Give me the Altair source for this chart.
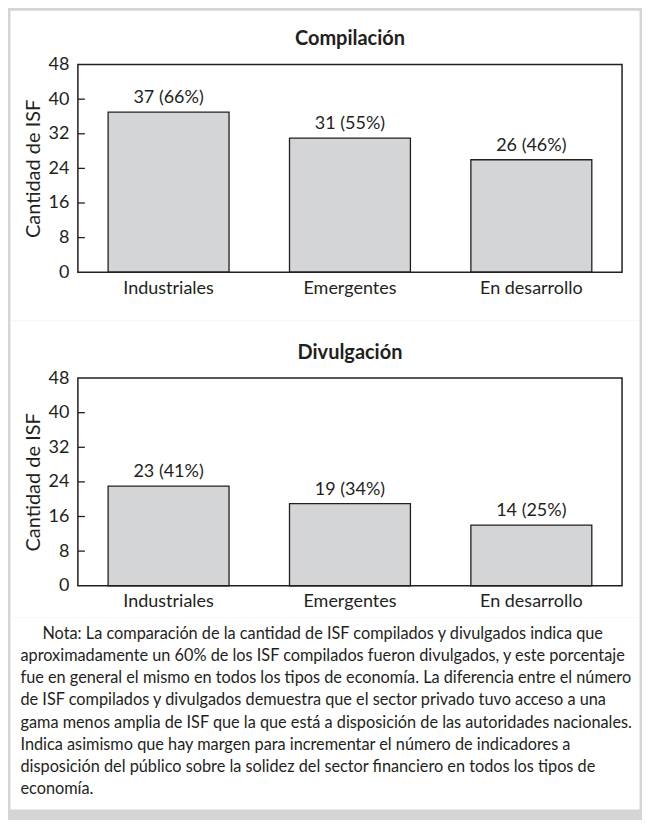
import altair as alt
import pandas as pd

# ---------------- data ----------------
categories = ["Industriales", "Emergentes", "En desarrollo"]
compilados = [37, 31, 26]
compilados_pct = [66, 55, 46]
divulgados = [23, 19, 14]
divulgados_pct = [41, 34, 25]
y_ticks = [0, 8, 16, 24, 32, 40, 48]
inner_ticks = [8, 16, 24, 32, 40]
panel_titles = ["Compilación", "Divulgación"]
y_title = "Cantidad de ISF"
note_lines = [
    "Nota: La comparación de la cantidad de ISF compilados y divulgados indica que",
    "aproximadamente un 60% de los ISF compilados fueron divulgados, y este porcentaje",
    "fue en general el mismo en todos los tipos de economía. La diferencia entre el número",
    "de ISF compilados y divulgados demuestra que el sector privado tuvo acceso a una",
    "gama menos amplia de ISF que la que está a disposición de las autoridades nacionales.",
    "Indica asimismo que hay margen para incrementar el número de indicadores a",
    "disposición del público sobre la solidez del sector financiero en todos los tipos de",
    "economía.",
]

# ---------------- style ----------------
FONT = "Lato"
INK = "#231f20"
BAR_FILL = "#d4d5d7"
BG = "#d4d5d7"
W, H = 545, 208
PANEL_L, PANEL_R = -67.5, 562.5


def panel(values, pcts, title, top_ext, bottom_ext, title_y):
    df = pd.DataFrame({
        "cat": categories,
        "val": values,
        "label": [f"{v} ({p}%)" for v, p in zip(values, pcts)],
    })
    x = alt.X(
        "cat:N", sort=categories,
        scale=alt.Scale(paddingInner=1 / 3, paddingOuter=1 / 6),
        axis=alt.Axis(title=None, labelAngle=0, labelFont=FONT, labelFontSize=18,
                      labelColor=INK, labelPadding=7, ticks=False, tickSize=0,
                      domain=False, zindex=1),
    )
    y_axis = alt.Axis(values=y_ticks, title=y_title, titleFont=FONT, titleFontSize=20,
                      titleFontWeight="normal", titleColor=INK, titlePadding=5,
                      labelFont=FONT, labelFontSize=18, labelColor=INK, labelPadding=9,
                      labelOverlap=False, labelBound=False, labelSeparation=0,
                      grid=False, ticks=False, tickSize=0, domain=False, zindex=1)
    y_scale = alt.Scale(domain=[0, 48], nice=False, zero=True)
    y = alt.Y("val:Q", scale=y_scale, axis=y_axis)

    bg = alt.Chart(pd.DataFrame({"panel": [1]})).mark_rect(fill="white").encode(
        x=alt.value(PANEL_L), x2=alt.value(PANEL_R),
        y=alt.value(top_ext), y2=alt.value(bottom_ext),
    )
    head = alt.Chart(pd.DataFrame({"t": [title]})).mark_text(
        font=FONT, fontSize=20, fontWeight="bold", color=INK, baseline="alphabetic"
    ).encode(x=alt.value(W / 2), y=alt.value(title_y), text="t:N")
    bars = alt.Chart(df).mark_bar(fill=BAR_FILL, stroke=INK, strokeWidth=1.3).encode(x=x, y=y)
    ticks = alt.Chart(pd.DataFrame({"val": inner_ticks})).mark_rule(
        stroke=INK, strokeWidth=1.3
    ).encode(y=y, x=alt.value(0), x2=alt.value(7))
    frame = alt.Chart(pd.DataFrame({"panel": [1]})).mark_rect(
        fillOpacity=0, stroke=INK, strokeWidth=1.5
    ).encode(x=alt.value(0), x2=alt.value(W), y=alt.value(0), y2=alt.value(H))
    labels = alt.Chart(df).mark_text(
        font=FONT, fontSize=18, color=INK, baseline="alphabetic", dy=-9
    ).encode(x=x, y=y, text="label:N")
    return alt.layer(bg, head, bars, ticks, frame, labels).properties(width=W, height=H)


c1 = panel(compilados, compilados_pct, panel_titles[0], -54, 256, -20)
c2 = panel(divulgados, divulgados_pct, panel_titles[1], -58, 240, -19)

NOTE_H = 192
note_df = pd.DataFrame({"i": list(range(len(note_lines))), "line": note_lines})
note_bg = alt.Chart(pd.DataFrame({"panel": [1]})).mark_rect(fill="white").encode(
    x=alt.value(PANEL_L), x2=alt.value(PANEL_R), y=alt.value(0), y2=alt.value(NOTE_H)
)
ny = alt.Y("i:O", axis=None, scale=alt.Scale(range=[5, 183], paddingInner=0, paddingOuter=0))
note_first = alt.Chart(note_df).transform_filter("datum.i == 0").mark_text(
    align="left", baseline="middle", font=FONT, fontSize=16.3, color=INK
).encode(y=ny, x=alt.value(-35.5), text="line:N")
note_rest = alt.Chart(note_df).transform_filter("datum.i > 0").mark_text(
    align="left", baseline="middle", font=FONT, fontSize=16.3, color=INK
).encode(y=ny, x=alt.value(-57.5), text="line:N")
c3 = alt.layer(note_bg, note_first, note_rest).properties(width=W, height=NOTE_H)

chart = alt.vconcat(c1, c2, c3, spacing=0).properties(
    padding={"left": 2, "top": 2, "right": 2, "bottom": 10},
    background=BG,
).configure_view(strokeWidth=0)

chart.save("out.html", embed_options={"renderer": "svg", "actions": False})
